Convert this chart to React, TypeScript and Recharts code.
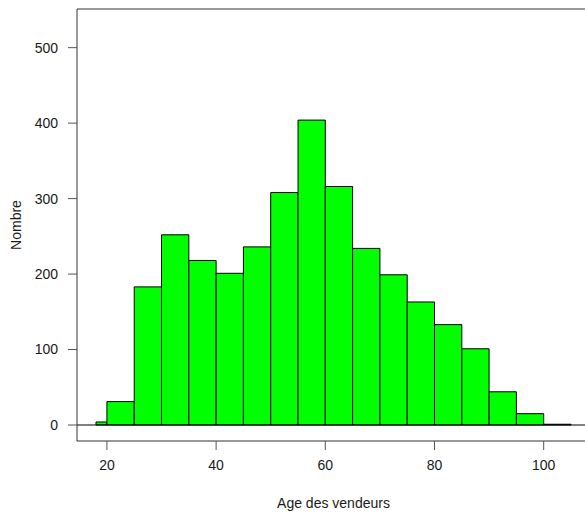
import { ComposedChart, Line, ReferenceArea, ReferenceLine, XAxis, YAxis, Label } from "recharts";

// histogram bins (age) and counts
const binStart = [18, 20, 25, 30, 35, 40, 45, 50, 55, 60, 65, 70, 75, 80, 85, 90, 95, 100];
const binEnd = [20, 25, 30, 35, 40, 45, 50, 55, 60, 65, 70, 75, 80, 85, 90, 95, 100, 105];
const counts = [4, 31, 183, 252, 218, 201, 236, 308, 404, 316, 234, 199, 163, 133, 101, 44, 15, 1];

const xTicks = [20, 40, 60, 80, 100];
const yTicks = [0, 100, 200, 300, 400, 500];

const rows = binStart.map((s, i) => ({ mid: (s + binEnd[i]) / 2, count: counts[i] }));

const X_DOMAIN: [number, number] = [14.52, 108.48];
const Y_DOMAIN: [number, number] = [-21.2, 551.2];

const font = "'Liberation Sans', Arial, sans-serif";
const lineCol = "#333";
const tickCol = "#555";
const textStyle = { fontSize: 14, fill: "#1a1a1a" };

export default function App() {
  return (
    <div style={{ position: "absolute", left: 0, top: 0, width: 585, height: 512, overflow: "hidden", background: "#fff" }}>
      <ComposedChart
        width={600}
        height={512}
        data={rows}
        margin={{ top: 9, right: 10, left: 0, bottom: 0 }}
        style={{ fontFamily: font }}
      >
        <XAxis
          type="number"
          dataKey="mid"
          domain={X_DOMAIN}
          ticks={xTicks}
          allowDataOverflow
          height={71}
          tickSize={9}
          tickMargin={10}
          stroke={lineCol}
          tickLine={{ stroke: tickCol }}
          tick={textStyle}
        >
          <Label value="Age des vendeurs" position="insideBottom" offset={4} style={textStyle} />
        </XAxis>
        <YAxis
          type="number"
          domain={Y_DOMAIN}
          ticks={yTicks}
          allowDataOverflow
          width={77}
          tickSize={9}
          tickMargin={10}
          stroke={lineCol}
          tickLine={{ stroke: tickCol }}
          tick={textStyle}
        >
          <Label value="Nombre" angle={-90} position="insideLeft" offset={16} style={{ ...textStyle, textAnchor: "middle" }} />
        </YAxis>
        <ReferenceLine y={Y_DOMAIN[1]} stroke={lineCol} ifOverflow="visible" />
        <ReferenceLine y={0} stroke="#000" />
        {binStart.map((s, i) => (
          <ReferenceArea
            key={s}
            x1={s}
            x2={binEnd[i]}
            y1={0}
            y2={counts[i]}
            fill="#00ff00"
            fillOpacity={1}
            stroke="#000"
            strokeWidth={1}
            ifOverflow="visible"
          />
        ))}
        <Line dataKey="count" stroke="none" dot={false} activeDot={false} isAnimationActive={false} />
      </ComposedChart>
    </div>
  );
}
